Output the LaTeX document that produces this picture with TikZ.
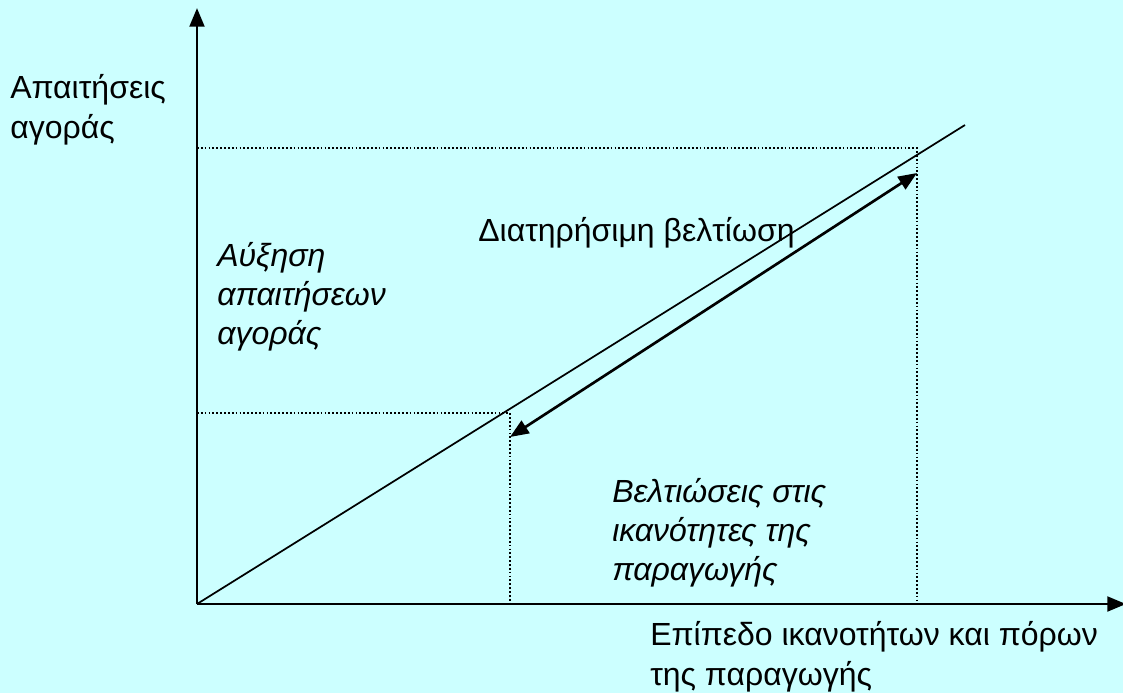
\documentclass[tikz,border=0pt]{standalone}
\usepackage{fontspec}
\setmainfont{Liberation Sans}
\usetikzlibrary{arrows.meta}
\definecolor{bgCyan}{HTML}{CCFFFF}
\tikzset{
  axis/.style={-{Triangle[length=14pt,width=11pt]}, line width=2.2pt},
  trend/.style={line width=1.3pt},
  guide/.style={line width=1.3pt, dash pattern=on 1.3pt off 1.6pt},
  dbl/.style={{Triangle[length=14pt,width=11pt]}-{Triangle[length=14pt,width=11pt]}, line width=2pt},
  lbl/.style={anchor=base west, inner sep=0pt, align=left,
              font=\fontsize{24}{30}\selectfont},
  ilbl/.style={lbl, font=\fontsize{24}{29}\selectfont\itshape},
}
\begin{document}
\begin{tikzpicture}[x=0.75pt,y=-0.75pt]
  \fill[bgCyan] (0,0) rectangle (1123,693);
  \useasboundingbox (0,0) rectangle (1123,693);
  % axes and trend line
  \coordinate (O) at (197,604);
  \coordinate (ytop) at (197,8);
  \coordinate (xend) at (1126,604);
  \coordinate (lend) at (965,125);
  \coordinate (hiX) at (917,604);
  \coordinate (hiY) at (197,148);
  \coordinate (hi) at (917,148);
  \coordinate (loX) at (510,604);
  \coordinate (loY) at (197,413);
  \coordinate (lo) at (510,413);
  \draw[guide] (hiY) -- (hi) -- (hiX);
  \draw[guide] (loY) -- (lo) -- (loX);
  \draw[trend] (O) -- (lend);
  \draw[axis] (O) -- (ytop);
  \draw[axis] (O) -- (xend);
  \coordinate (a1) at (510,437);
  \coordinate (a2) at (917,173);
  \draw[dbl] (a1) -- (a2);
  % labels (base = last line)
  \node[lbl] (ylab) at (10,138) {Απαιτήσεις\\αγοράς};
  \node[lbl] (xlab) at (650,685) {Επίπεδο ικανοτήτων και πόρων\\της παραγωγής};
  \node[lbl] (keep) at (478,241) {Διατηρήσιμη βελτίωση};
  \node[ilbl] (rise) at (217,344) {Αύξηση\\απαιτήσεων\\αγοράς};
  \node[ilbl] (prod) at (612,580) {Βελτιώσεις στις\\ικανότητες της\\παραγωγής};
\end{tikzpicture}
\end{document}
